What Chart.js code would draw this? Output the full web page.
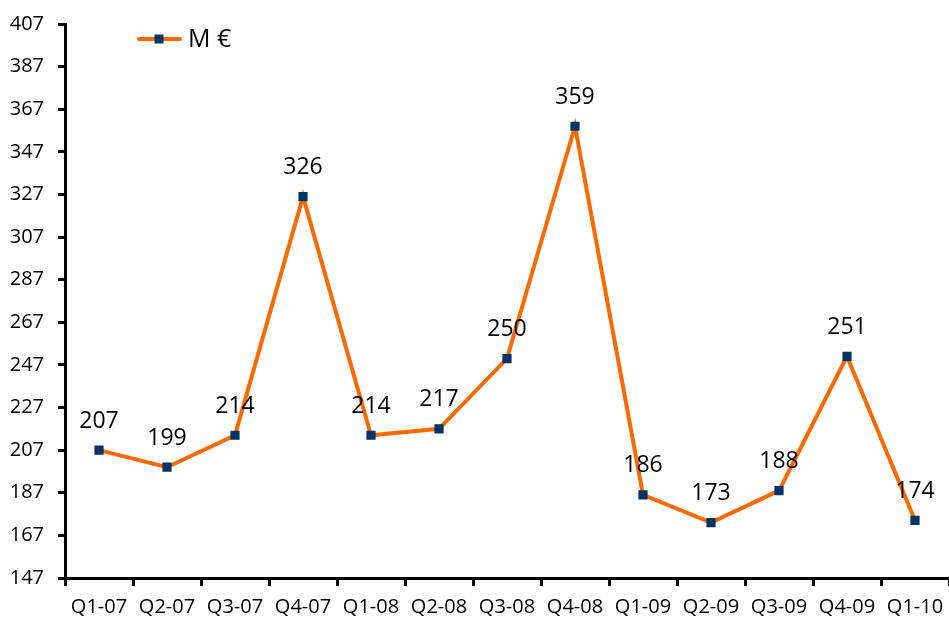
<!DOCTYPE html>
<html>
<head>
<meta charset="utf-8">
<script src="https://cdn.jsdelivr.net/npm/chart.js@4/dist/chart.umd.min.js"></script>
<style>
  html, body { margin: 0; padding: 0; background: #fff; overflow: hidden; }
  #wrap { width: 949px; height: 624px; position: relative; }
</style>
</head>
<body>
<div id="wrap"><canvas id="c"></canvas></div>
<script>
/* quarterly values, M € */
var quarters = ["Q1-07", "Q2-07", "Q3-07", "Q4-07", "Q1-08", "Q2-08", "Q3-08",
                "Q4-08", "Q1-09", "Q2-09", "Q3-09", "Q4-09", "Q1-10"];
var values = [207, 199, 214, 326, 214, 217, 250, 359, 186, 173, 188, 251, 174];
var yTicks = [147, 167, 187, 207, 227, 247, 267, 287, 307, 327, 347, 367, 387, 407];
var seriesName = "M €";

(function () {
  "use strict";
  var ORANGE = "#ff6a00";
  var NAVY = "#003366";
  var INK = "#000000";
  var FAMILY = "'Open Sans', 'DejaVu Sans', sans-serif";

  Chart.defaults.font.family = FAMILY;
  Chart.defaults.color = INK;

  // value above every point
  var valueLabels = {
    id: "valueLabels",
    afterDatasetsDraw: function (chart) {
      var ctx = chart.ctx;
      var meta = chart.getDatasetMeta(0);
      ctx.save();
      ctx.font = "23px " + FAMILY;
      ctx.fillStyle = INK;
      ctx.textAlign = "center";
      ctx.textBaseline = "middle";
      meta.data.forEach(function (pt, i) {
        ctx.fillText(String(values[i]), pt.x, pt.y - 29);
      });
      ctx.restore();
    }
  };

  // legend sample: line with square marker, top-left
  var lineLegend = {
    id: "lineLegend",
    afterDraw: function (chart) {
      var ctx = chart.ctx;
      var ds = chart.data.datasets[0];
      var y = 39;
      ctx.save();
      ctx.strokeStyle = ds.borderColor;
      ctx.lineWidth = ds.borderWidth;
      ctx.lineCap = "round";
      ctx.beginPath();
      ctx.moveTo(139, y);
      ctx.lineTo(180, y);
      ctx.stroke();
      ctx.fillStyle = ds.pointBackgroundColor;
      ctx.fillRect(159 - 4.5, y - 4.5, 9, 9);
      ctx.font = "25px " + FAMILY;
      ctx.fillStyle = INK;
      ctx.textBaseline = "middle";
      ctx.fillText(ds.label, 188, y + 1);
      ctx.restore();
    }
  };

  new Chart(document.getElementById("c"), {
    type: "line",
    data: {
      labels: quarters,
      datasets: [{
        label: seriesName,
        data: values,
        borderColor: ORANGE,
        borderWidth: 4,
        pointStyle: "rect",
        pointRadius: 6.5,
        pointHoverRadius: 6.5,
        pointBackgroundColor: NAVY,
        pointBorderColor: NAVY,
        pointBorderWidth: 0,
        tension: 0
      }]
    },
    options: {
      responsive: true, maintainAspectRatio: false,
      animation: false,
      layout: { autoPadding: false, padding: 0 },
      plugins: { legend: { display: false }, tooltip: { enabled: false } },
      scales: {
        x: {
          offset: true,
          grid: { display: true, offset: true, drawOnChartArea: false, drawTicks: true,
                  tickLength: 8, color: INK, lineWidth: 3 },
          border: { color: INK, width: 3 },
          ticks: { font: { size: 20 }, padding: 9, maxRotation: 0, autoSkip: false },
          afterFit: function (s) { s.height = 46; s.paddingRight = 0; s.paddingLeft = 0; }
        },
        y: {
          min: yTicks[0], max: yTicks[yTicks.length - 1],
          grid: { display: true, drawOnChartArea: false, drawTicks: true,
                  tickLength: 7, color: INK, lineWidth: 3 },
          border: { color: INK, width: 3 },
          ticks: { font: { size: 20 }, padding: 14 },
          afterBuildTicks: function (s) { s.ticks = yTicks.map(function (v) { return { value: v }; }); },
          afterFit: function (s) { s.width = 65; s.paddingTop = 24; s.paddingBottom = 0; }
        }
      }
    },
    plugins: [valueLabels, lineLegend]
  });
})();
</script>
</body>
</html>
